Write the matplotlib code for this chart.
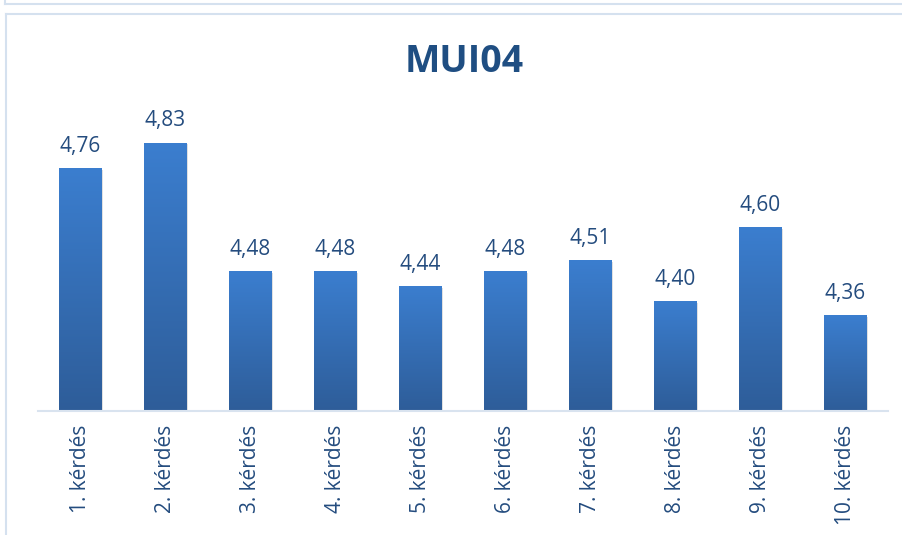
import numpy as np
import matplotlib.pyplot as plt
from matplotlib.colors import LinearSegmentedColormap
from matplotlib.lines import Line2D

categories = ['1. kérdés', '2. kérdés', '3. kérdés', '4. kérdés', '5. kérdés',
              '6. kérdés', '7. kérdés', '8. kérdés', '9. kérdés', '10. kérdés']
values = [4.76, 4.83, 4.48, 4.48, 4.44, 4.48, 4.51, 4.40, 4.60, 4.36]
title = 'MUI04'

y_min, y_max = 4.1, 5.0
bar_width = 0.5
text_color = '#244C7E'
frame_color = '#D5E1EF'

plt.rcParams['font.family'] = ['Open Sans', 'DejaVu Sans']

fig = plt.figure(figsize=(9.03, 5.35), dpi=100)

# panel frames (Excel-style chart border)
fig.add_artist(Line2D([5 / 903, 1], [1 - 4 / 535, 1 - 4 / 535], color=frame_color, lw=1.5))
fig.add_artist(Line2D([5 / 903, 5 / 903], [1 - 4 / 535, 1], color=frame_color, lw=1.5))
fig.add_artist(Line2D([6 / 903, 1], [1 - 14 / 535, 1 - 14 / 535], color=frame_color, lw=1.5))
fig.add_artist(Line2D([6 / 903, 6 / 903], [0, 1 - 14 / 535], color=frame_color, lw=1.5))

ax = fig.add_axes([38 / 903, 124 / 535, 850 / 903, 331 / 535])
x = np.arange(len(categories))

cmap = LinearSegmentedColormap.from_list('bar', ['#2E5D99', '#3B7ECF'])
grad = np.linspace(0, 1, 256).reshape(-1, 1)

for xi, v in zip(x, values):
    # soft shadow
    ax.bar(xi + 0.02, v - y_min, width=bar_width, bottom=y_min - 0.005,
           color='#000000', alpha=0.12, zorder=1)
    bar = ax.bar(xi, v - y_min, width=bar_width, bottom=y_min, color='none', zorder=2)[0]
    img = ax.imshow(grad, cmap=cmap, origin='lower', aspect='auto',
                    extent=[xi - bar_width / 2, xi + bar_width / 2, y_min, v], zorder=2)
    img.set_clip_path(bar)
    ax.annotate(f'{v:.2f}'.replace('.', ','), (xi, v), xytext=(0, 8),
                textcoords='offset points', ha='center', va='bottom',
                fontsize=15, color=text_color)

ax.set_xlim(-0.5, len(categories) - 0.5)
ax.set_ylim(y_min, y_max)
ax.set_xticks(x)
ax.set_xticklabels(categories, rotation=90, fontsize=15, color=text_color)
ax.tick_params(axis='x', length=0, pad=10)
ax.set_yticks([])
for side in ['top', 'right', 'left']:
    ax.spines[side].set_visible(False)
ax.spines['bottom'].set_color('#D9E3EF')
ax.spines['bottom'].set_linewidth(1.5)

fig.text(464 / 903, 1 - 62 / 535, title, ha='center', va='center',
         fontsize=27, fontweight='bold', color='#1F4E82')

fig.savefig('out.png', dpi=100)
